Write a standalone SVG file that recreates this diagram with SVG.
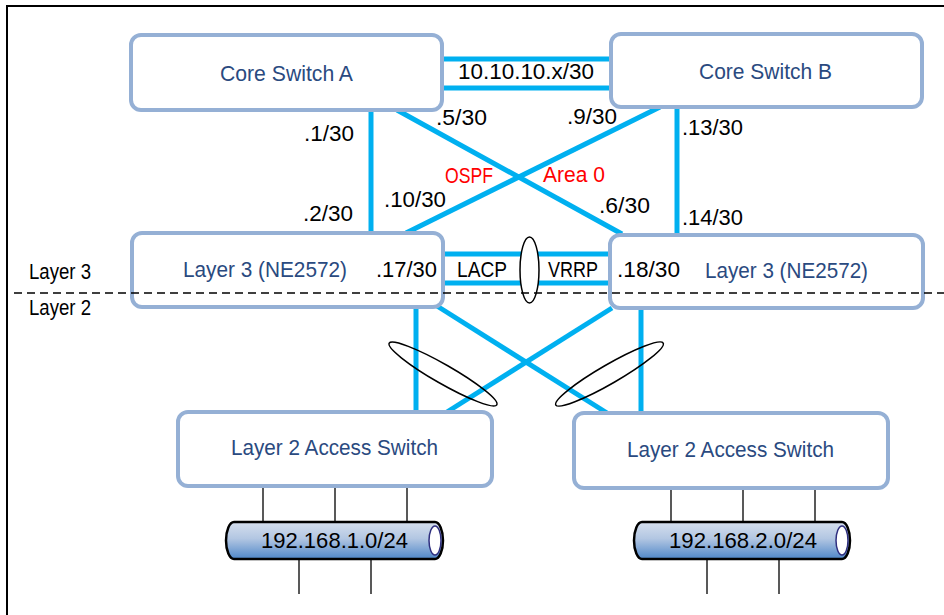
<svg xmlns="http://www.w3.org/2000/svg" width="944" height="615" viewBox="0 0 944 615">
<defs>
<linearGradient id="pipe" x1="0" y1="0" x2="0" y2="1">
<stop offset="0" stop-color="#d6dfee"/>
<stop offset="0.45" stop-color="#b2c6e2"/>
<stop offset="1" stop-color="#4f87c8"/>
</linearGradient>
<style>
.box{fill:#fff;stroke:#95b0d5;stroke-width:4}
.lnk{stroke:#00b0f0;stroke-width:5;fill:none}
.drop{stroke:#222;stroke-width:1.5}
.t{font-family:"Liberation Sans",Arial,sans-serif;font-size:22px;fill:#000}
.n{font-family:"Liberation Sans",Arial,sans-serif;font-size:22px;fill:#2a4a7f}
.r{fill:#ff0000}
.lag{fill:none;stroke:#000;stroke-width:1.5}
.pipe{fill:url(#pipe);stroke:#000;stroke-width:2.5}
.cap{fill:#fff;stroke:#2f2f7f;stroke-width:1.5}
</style>
</defs>
<rect x="0" y="0" width="944" height="615" fill="#fff"/>
<path d="M7,615 V6 H944" fill="none" stroke="#000" stroke-width="2"/>

<g id="connectors">
<line class="lnk" x1="442" y1="59" x2="611" y2="59"/>
<line class="lnk" x1="442" y1="88" x2="611" y2="88"/>
<line class="lnk" x1="371" y1="110" x2="371" y2="233"/>
<line class="lnk" x1="397" y1="110" x2="622" y2="234"/>
<line class="lnk" x1="660" y1="107" x2="406" y2="233"/>
<line class="lnk" x1="677" y1="109" x2="677" y2="235"/>
<line class="lnk" x1="443" y1="254" x2="610" y2="254"/>
<line class="lnk" x1="443" y1="283" x2="610" y2="283"/>
<line class="lnk" x1="416" y1="307" x2="416" y2="412"/>
<line class="lnk" x1="437" y1="306" x2="607" y2="413"/>
<line class="lnk" x1="612" y1="308" x2="447" y2="412"/>
<line class="lnk" x1="641" y1="308" x2="641" y2="413"/>
<line class="drop" x1="263" y1="486" x2="263" y2="522"/>
<line class="drop" x1="335" y1="486" x2="335" y2="522"/>
<line class="drop" x1="407" y1="486" x2="407" y2="522"/>
<line class="drop" x1="299" y1="559" x2="299" y2="594"/>
<line class="drop" x1="371" y1="559" x2="371" y2="594"/>
<line class="drop" x1="671" y1="488" x2="671" y2="522"/>
<line class="drop" x1="743" y1="488" x2="743" y2="522"/>
<line class="drop" x1="815" y1="488" x2="815" y2="522"/>
<line class="drop" x1="707" y1="559" x2="707" y2="594"/>
<line class="drop" x1="779" y1="559" x2="779" y2="594"/>
<ellipse class="lag" cx="529.5" cy="270" rx="9.5" ry="33" style="fill:#fff"/>
<ellipse class="lag" cx="443" cy="374" rx="62" ry="9.5" transform="rotate(29.8 443 374)"/>
<ellipse class="lag" cx="609.5" cy="374" rx="62" ry="9.5" transform="rotate(-30 609.5 374)"/>
</g>

<g id="core-a">
<rect class="box" x="131" y="35" width="311" height="75" rx="10"/>
<text class="n" x="220" y="81" textLength="133" lengthAdjust="spacingAndGlyphs">Core Switch A</text>
</g>
<g id="core-b">
<rect class="box" x="611" y="34" width="311" height="73" rx="10"/>
<text class="n" x="699" y="79" textLength="133" lengthAdjust="spacingAndGlyphs">Core Switch B</text>
</g>
<g id="l3-left">
<rect class="box" x="132" y="233" width="311" height="74" rx="10"/>
<text class="n" x="183" y="277" textLength="164" lengthAdjust="spacingAndGlyphs">Layer 3 (NE2572)</text>
</g>
<g id="l3-right">
<rect class="box" x="610" y="235" width="313" height="73" rx="10"/>
<text class="n" x="705" y="278" textLength="163" lengthAdjust="spacingAndGlyphs">Layer 3 (NE2572)</text>
</g>
<g id="access-left">
<rect class="box" x="178" y="412" width="314" height="74" rx="10"/>
<text class="n" x="231" y="455" textLength="207" lengthAdjust="spacingAndGlyphs">Layer 2 Access Switch</text>
</g>
<g id="access-right">
<rect class="box" x="574" y="413" width="314" height="75" rx="10"/>
<text class="n" x="627" y="457" textLength="207" lengthAdjust="spacingAndGlyphs">Layer 2 Access Switch</text>
</g>
<g id="net-1">
<path class="pipe" d="M234,522 H435 A8,18.5 0 0 1 435,559 H234 A8,18.5 0 0 1 234,522 Z"/>
<ellipse class="cap" cx="435" cy="540.5" rx="6" ry="14.5"/>
<text class="t" x="261" y="548" textLength="147" lengthAdjust="spacingAndGlyphs">192.168.1.0/24</text>
</g>
<g id="net-2">
<path class="pipe" d="M642,522 H842 A8,18.5 0 0 1 842,559 H642 A8,18.5 0 0 1 642,522 Z"/>
<ellipse class="cap" cx="842" cy="540.5" rx="6" ry="14.5"/>
<text class="t" x="669" y="548" textLength="148" lengthAdjust="spacingAndGlyphs">192.168.2.0/24</text>
</g>

<g id="labels">
<text class="t" x="458" y="79" textLength="136" lengthAdjust="spacingAndGlyphs">10.10.10.x/30</text>
<text class="t" x="304" y="141" textLength="50" lengthAdjust="spacingAndGlyphs">.1/30</text>
<text class="t" x="303" y="221" textLength="50" lengthAdjust="spacingAndGlyphs">.2/30</text>
<text class="t" x="436" y="125" textLength="51" lengthAdjust="spacingAndGlyphs">.5/30</text>
<text class="t" x="567" y="124" textLength="50" lengthAdjust="spacingAndGlyphs">.9/30</text>
<text class="t" x="384" y="207" textLength="62" lengthAdjust="spacingAndGlyphs">.10/30</text>
<text class="t" x="599" y="213" textLength="51" lengthAdjust="spacingAndGlyphs">.6/30</text>
<text class="t" x="682" y="135" textLength="61" lengthAdjust="spacingAndGlyphs">.13/30</text>
<text class="t" x="682" y="225" textLength="61" lengthAdjust="spacingAndGlyphs">.14/30</text>
<text class="t r" x="445" y="183" textLength="48" lengthAdjust="spacingAndGlyphs">OSPF</text>
<text class="t r" x="543" y="182" textLength="62" lengthAdjust="spacingAndGlyphs">Area 0</text>
<text class="t" x="376" y="277" textLength="61" lengthAdjust="spacingAndGlyphs">.17/30</text>
<text class="t" x="457" y="277" textLength="50" lengthAdjust="spacingAndGlyphs">LACP</text>
<text class="t" x="548" y="277" textLength="50" lengthAdjust="spacingAndGlyphs">VRRP</text>
<text class="t" x="617" y="277" textLength="63" lengthAdjust="spacingAndGlyphs">.18/30</text>
<text class="t" x="29" y="279" textLength="62" lengthAdjust="spacingAndGlyphs">Layer 3</text>
<text class="t" x="29" y="315" textLength="62" lengthAdjust="spacingAndGlyphs">Layer 2</text>
</g>
<line x1="14" y1="293" x2="944" y2="293" stroke="#000" stroke-width="1.5" stroke-dasharray="8,5"/>
</svg>
